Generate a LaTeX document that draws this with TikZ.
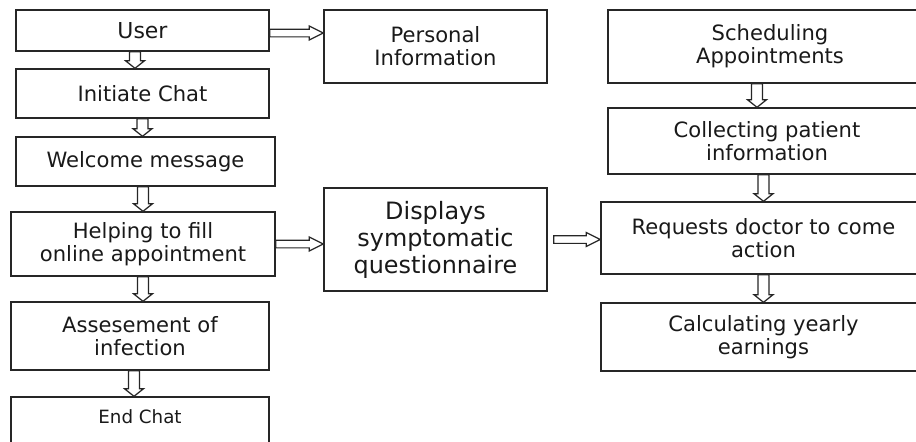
\documentclass[tikz,border=0pt]{standalone}
\usepackage{fontspec}
\setmainfont{DejaVu Sans}
\usetikzlibrary{calc}

\tikzset{
	flow box/.style={draw=black!85,line width=0.8pt,align=center,inner sep=0pt,
		text=black!90,font=\fontsize{12}{13.1}\selectfont},
	block arrow/.style n args={3}{draw=black!85,line width=0.7pt,fill=white,
		to path={let \p1=(\tikztostart), \p2=(\tikztotarget),
			\p3=($(\p2)!#3!(\p1)$) in
			($(\p1)!#1!90:(\p2)$) -- ($(\p3)!#1!90:(\p2)$) -- ($(\p3)!#2!90:(\p2)$)
			-- (\p2) -- ($(\p3)!#2!-90:(\p2)$) -- ($(\p3)!#1!-90:(\p2)$)
			-- ($(\p1)!#1!-90:(\p2)$) -- cycle}},
	down arrow/.style={block arrow={3.1pt}{5.4pt}{4.3pt}},
	right arrow/.style={block arrow={2.2pt}{4pt}{8pt}}
}

\begin{document}
\begin{tikzpicture}
	\useasboundingbox (0,0) rectangle (18.32,-8.82);
	\clip (0,0) rectangle (18.32,-8.82);
	
	% left column
	\node[flow box] (user) [minimum width=5.06cm,minimum height=0.82cm,font=\fontsize{12.5}{14}\selectfont] at (2.85,-0.61) {User};
	\node[flow box] (init) [minimum width=5.06cm,minimum height=0.98cm] at (2.85,-1.87) {Initiate Chat};
	\node[flow box] (welcome) [minimum width=5.18cm,minimum height=0.98cm] at (2.91,-3.23) {Welcome message};
	\node[flow box] (help) [minimum width=5.28cm,minimum height=1.28cm] at (2.86,-4.88) {Helping to fill\\online appointment};
	\node[flow box] (assess) [minimum width=5.16cm,minimum height=1.36cm] at (2.80,-6.72) {Assesement of\\infection};
	\node[flow box] (endchat) [minimum width=5.16cm,minimum height=1.0cm,text depth=0.2cm,font=\fontsize{10.4}{12}\selectfont] at (2.80,-8.44) {End Chat};
	
	% middle column
	\node[flow box] (pinfo) [minimum width=4.46cm,minimum height=1.46cm] at (8.71,-0.93) {Personal\\Information};
	\node[flow box] (disp) [minimum width=4.46cm,minimum height=2.06cm,font=\fontsize{13.6}{15.4}\selectfont] at (8.71,-4.79) {Displays\\symptomatic\\questionnaire};
	
	% right column
	\node[flow box] (sched) [minimum width=6.48cm,minimum height=1.46cm] at (15.40,-0.93) {Scheduling\\Appointments};
	\node[flow box] (collect) [minimum width=6.36cm,minimum height=1.32cm] at (15.34,-2.82) {Collecting patient\\information};
	\node[flow box] (req) [minimum width=6.5cm,minimum height=1.44cm] at (15.27,-4.76) {Requests doctor to come\\action};
	\node[flow box] (calc) [minimum width=6.5cm,minimum height=1.36cm] at (15.27,-6.74) {Calculating yearly\\earnings};
	
	\draw[down arrow] ([xshift=-0.15cm]user.south) to ([xshift=-0.15cm]user.south |- init.north);
	\draw[down arrow] (init.south) to (init.south |- welcome.north);
	\draw[down arrow] (help.north |- welcome.south) to (help.north);
	\draw[down arrow] (help.south) to (help.south |- assess.north);
	\draw[down arrow] ([xshift=-0.12cm]assess.south) to ([xshift=-0.12cm]assess.south |- endchat.north);
	\draw[down arrow] ([xshift=-0.2cm]collect.north |- sched.south) to ([xshift=-0.2cm]collect.north);
	\draw[down arrow] (req.north |- collect.south) to (req.north);
	\draw[down arrow] (req.south) to (calc.north);
	
	\draw[right arrow] ([yshift=-0.05cm]user.east) to ([yshift=-0.05cm]user.east -| pinfo.west);
	\draw[right arrow] (help.east) to (help.east -| disp.west);
	\draw[right arrow] ([xshift=0.12cm]disp.east) to (disp.east -| req.west);
\end{tikzpicture}
\end{document}
